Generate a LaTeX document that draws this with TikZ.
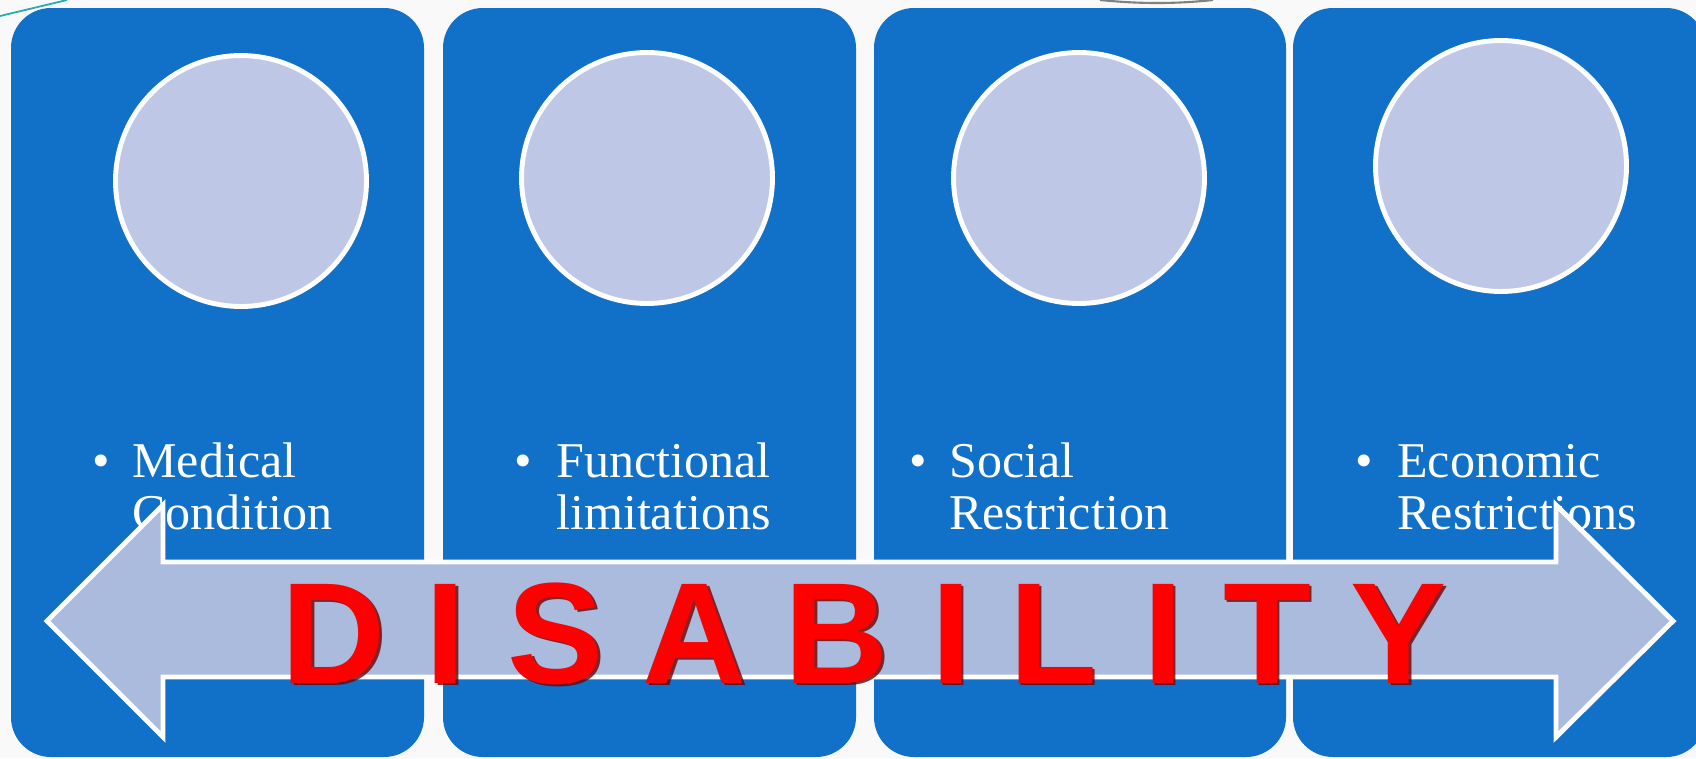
\documentclass[tikz,border=0pt]{standalone}
\usepackage{fontspec}
\setmainfont{Liberation Serif}
\newfontfamily\disfont{Liberation Sans}
\usetikzlibrary{positioning}

\definecolor{boxblue}{RGB}{17,112,199}
\definecolor{discfill}{RGB}{190,200,230}
\definecolor{arrowfill}{RGB}{171,187,222}
\definecolor{pagebg}{RGB}{249,249,249}
\definecolor{disred}{RGB}{255,0,0}
\definecolor{disshadow}{RGB}{110,0,0}
\definecolor{tealline}{RGB}{40,170,180}

\tikzset{
  stage/.style={fill=boxblue, rounded corners=0.8cm},
  disc/.style={circle, draw=white, line width=2.8pt, fill=discfill, minimum size=5.02cm, inner sep=0pt},
  item/.style={text=white, font=\fontsize{28.5}{29.5}\selectfont, align=left, anchor=base west, inner sep=0pt},
  dot/.style={text=white, font=\fontsize{28.5}{29.5}\selectfont, anchor=base, inner sep=0pt},
  band/.style={fill=arrowfill, draw=white, line width=2.8pt},
  letter/.style={font=\disfont\bfseries\fontsize{82}{82}\selectfont, anchor=base, inner sep=0pt}
}

\begin{document}
\begin{tikzpicture}[x=0.02cm, y=-0.02cm]
  % Page background, fixes the size
  \fill[pagebg] (0,0) rectangle (1696,758);
  \useasboundingbox (0,0) rectangle (1696,758);

  % Stray bits of the slide at the top edge
  \draw[tealline, line width=1pt] (0,16) -- (67,0);
  \draw[gray, line width=1.2pt] (1100,0) .. controls (1140,4) and (1175,4) .. (1213,0);

  % The four blue columns
  \foreach \l/\r in {11/424, 443/856, 874/1286, 1293/1706}
    \fill[stage] (\l,8) rectangle (\r,757);

  % Discs at the top of each column
  \node[disc] (medical disc) at (241,181) {};
  \node[disc] (functional disc) at (647,178) {};
  \node[disc] (social disc) at (1079,178) {};
  \node[disc] (economic disc) at (1501,166) {};

  % Bullets and labels
  \node[dot] (medical dot) at (101.5,477) {•};
  \node[item] (medical) at (132,529) {Medical\\Condition};
  \node[dot] (functional dot) at (523,477) {•};
  \node[item] (functional) at (556,529) {Functional\\limitations};
  \node[dot] (social dot) at (918,477) {•};
  \node[item] (social) at (949,529) {Social\\Restriction};
  \node[dot] (economic dot) at (1364,477) {•};
  \node[item] (economic) at (1397,529) {Economic\\Restrictions};

  % Double arrow across the columns
  \draw[band] (47,621) -- (163,505) -- (163,562) -- (1556,562) -- (1556,505)
    -- (1673,621) -- (1556,737) -- (1556,677) -- (163,677) -- (163,737) -- cycle;

  % DISABILITY, letter by letter with a dark shadow
  \foreach \ch/\x [count=\i] in {D/334, I/446, S/556, A/695, B/837, I/951, L/1053, I/1163, T/1267, Y/1399} {
    \node[letter, text=disshadow, opacity=0.8] (shadow\i) at (\x+2.5,685.5) {\ch};
    \node[letter, text=disred] (letter\i) at (\x,683) {\ch};
  }
\end{tikzpicture}
\end{document}
